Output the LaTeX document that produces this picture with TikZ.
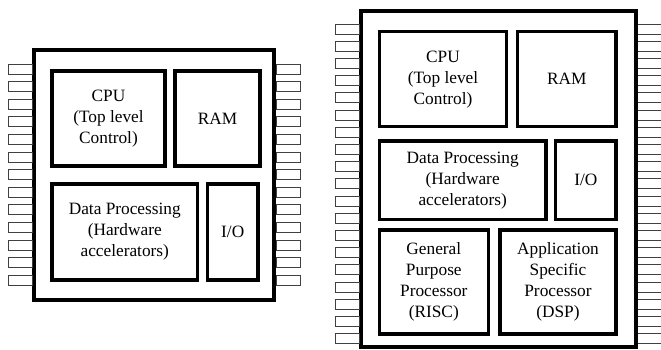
\documentclass[tikz,border=0pt]{standalone}
\usepackage{fontspec}
\setmainfont{Liberation Serif}
\usepackage{tikz}

\begin{document}
\begin{tikzpicture}[x=1pt,y=-1pt,
  chip/.style={draw,line width=4pt,inner sep=0pt},
  blk/.style={draw,line width=3.2pt,inner sep=0pt,align=center,
    font=\fontsize{17.3}{21}\selectfont},
  pinbox/.style={draw=black!75,line width=0.9pt}]
  \useasboundingbox (0,0) rectangle (661,349);
  % left chip
  \node[chip,minimum width=240,minimum height=250] (lchip) at (154,175) {};
  \node[blk,minimum width=113,minimum height=95] (lcpu) at (108.5,118.5) {CPU\\(Top level\\Control)};
  \node[blk,minimum width=85,minimum height=95] (lram) at (217.5,118.5) {RAM};
  \node[blk,minimum width=145.5,minimum height=96] (ldp) at (124.75,232) {Data Processing\\(Hardware\\accelerators)};
  \node[blk,minimum width=50.5,minimum height=96] (lio) at (232.75,232) {I/O};
  \foreach \i in {0,...,12} {
    \draw[pinbox] (8,64+17.6*\i) rectangle (lchip.west |- 0,74+17.6*\i);
    \draw[pinbox] (lchip.east |- 0,64+17.6*\i) rectangle (300,74+17.6*\i);
  }
  % right chip
  \node[chip,minimum width=275,minimum height=336] (rchip) at (498.5,178.5) {};
  \node[blk,minimum width=127.4,minimum height=95] (rcpu) at (443,79.2) {CPU\\(Top level\\Control)};
  \node[blk,minimum width=98.3,minimum height=95] (rram) at (566.8,79.2) {RAM};
  \node[blk,minimum width=166.7,minimum height=78.3] (rdp) at (462.7,180.2) {Data Processing\\(Hardware\\accelerators)};
  \node[blk,minimum width=60.3,minimum height=78.3] (rio) at (585.8,180.2) {I/O};
  \node[blk,minimum width=109,minimum height=104] (rgpp) at (433.8,282) {General\\Purpose\\Processor\\(RISC)};
  \node[blk,minimum width=116,minimum height=104] (rasp) at (558,282) {Application\\Specific\\Processor\\(DSP)};
  \foreach \i in {0,...,18} {
    \draw[pinbox] (335,24+17.2*\i) rectangle (rchip.west |- 0,34+17.2*\i);
    \draw[pinbox] (rchip.east |- 0,24+17.2*\i) -- (661,24+17.2*\i)
      (rchip.east |- 0,34+17.2*\i) -- (661,34+17.2*\i);
  }
\end{tikzpicture}
\end{document}
